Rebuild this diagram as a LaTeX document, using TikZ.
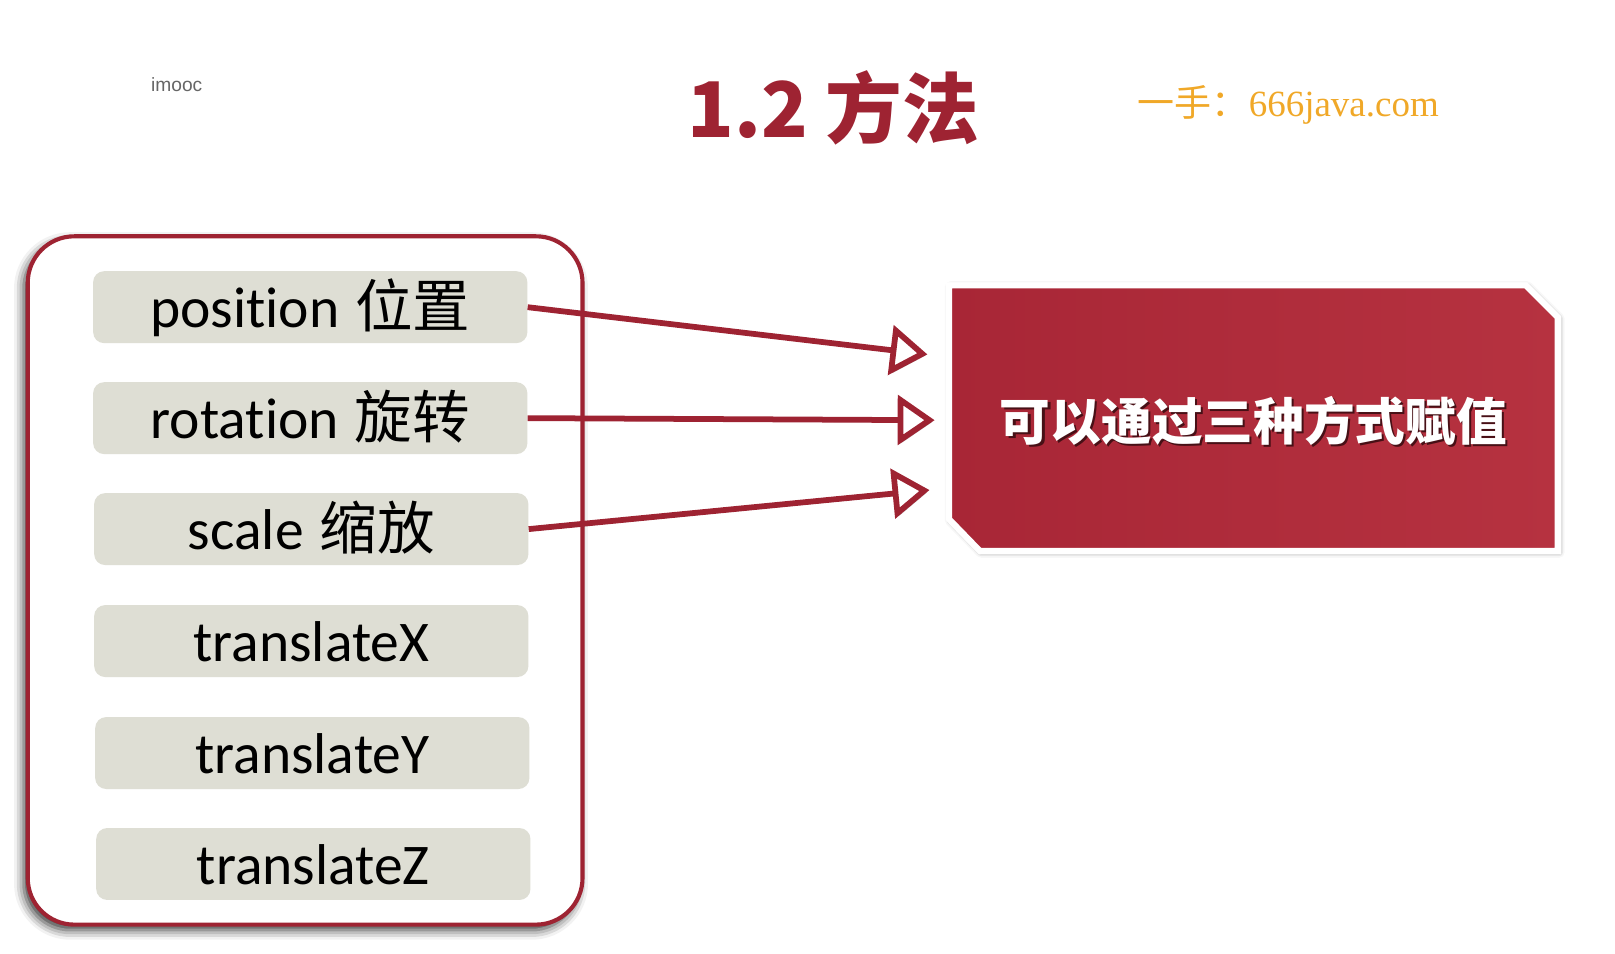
\documentclass[tikz,border=0pt]{standalone}
\usepackage{fontspec}
\setmainfont{Liberation Sans}
\newfontfamily\cjk{Noto Sans CJK SC}
\newfontfamily\carl{Carlito}[Ligatures=NoCommon]
\newfontfamily\wmserif{Liberation Serif}
\usetikzlibrary{arrows.meta, shadows.blur, calc}

\definecolor{mred}{RGB}{158,35,50}
\definecolor{boxred}{RGB}{182,50,64}
\definecolor{boxredd}{RGB}{168,38,54}
\definecolor{chipgray}{RGB}{222,222,212}
\definecolor{wmorange}{RGB}{240,168,40}

\begin{document}
\begin{tikzpicture}[x=0.75pt, y=-0.75pt,
	rowbox/.style={fill=chipgray, rounded corners=8pt, minimum width=317pt,
		minimum height=52.5pt, inner sep=0pt, text height=30pt, text depth=0pt,
		font=\fontsize{42}{42}\selectfont},
	arr/.style={draw=mred, line width=4.2pt,
		preaction={draw=black!45, opacity=.5, transform canvas={xshift=1.5pt, yshift=-1.5pt}},
		-{Triangle[fill=white, length=27pt, width=36pt]}},
]
	\useasboundingbox (0,0) rectangle (1572,928);

		%header
	\node[text=black!60, font=\fontsize{14}{14}\selectfont] (logo) at (172,82) {imooc};
	\node[text=mred, font=\fontsize{56}{56}\cjk\bfseries] (title) at (811,105) {1.2 方法};
	\node[text=wmorange, font=\fontsize{27}{27}\selectfont] (wm) at (1254,102)
		{{\cjk 一手：}{\wmserif 666java.com}};

		%left panel
	\node[draw=mred, line width=3pt, rounded corners=34pt, fill=white,
		minimum width=405pt, minimum height=502.5pt,
		blur shadow={shadow xshift=-3pt, shadow yshift=-4pt, shadow blur radius=7pt, shadow opacity=80}]
		(panel) at (297,565) {};
	\node[rowbox] (pos) at (302,299) {{\carl position} {\cjk 位置}};
	\node[rowbox] (rot) at (302,407) {{\carl rotation} {\cjk 旋转}};
	\node[rowbox] (scl) at (303,515) {{\carl scale} {\cjk 缩放}};
	\node[rowbox] (tx) at (303,624) {\carl translateX};
	\node[rowbox] (ty) at (304,733) {\carl translateY};
	\node[rowbox] (tz) at (305,841) {\carl translateZ};

		%result box, corners cut at top right and bottom left
	\node[minimum width=444pt, minimum height=193.5pt, inner sep=0pt] (res) at (1220,407) {};
	\draw[white, line width=4.5pt, left color=boxredd, right color=boxred,
		blur shadow={shadow xshift=1pt, shadow yshift=-1pt, shadow blur radius=4pt, shadow opacity=50}]
		(res.north west) -- ($(res.north east)+(-31,0)$) -- ($(res.north east)+(0,31)$)
		-- (res.south east) -- ($(res.south west)+(30,0)$) -- ($(res.south west)+(0,-31)$) -- cycle;
	\node[text=black!55!mred, font=\fontsize{37}{37}\cjk\bfseries] (resshade)
		at ($(res.center)+(2,5)$) {可以通过三种方式赋值};
	\node[text=white, font=\fontsize{37}{37}\cjk\bfseries] (restxt)
		at ($(res.center)+(0,3)$) {可以通过三种方式赋值};

		%arrows
	\coordinate (t1) at ($(res.west)+(-21,-62)$);
	\coordinate (t2) at ($(res.west)+(-14,2)$);
	\coordinate (t3) at ($(res.west)+(-19,70)$);
	\draw[arr] (pos.east) -- (t1);
	\draw[arr] (rot.east) -- (t2);
	\draw[arr] (scl.east) -- (t3);
\end{tikzpicture}
\end{document}
